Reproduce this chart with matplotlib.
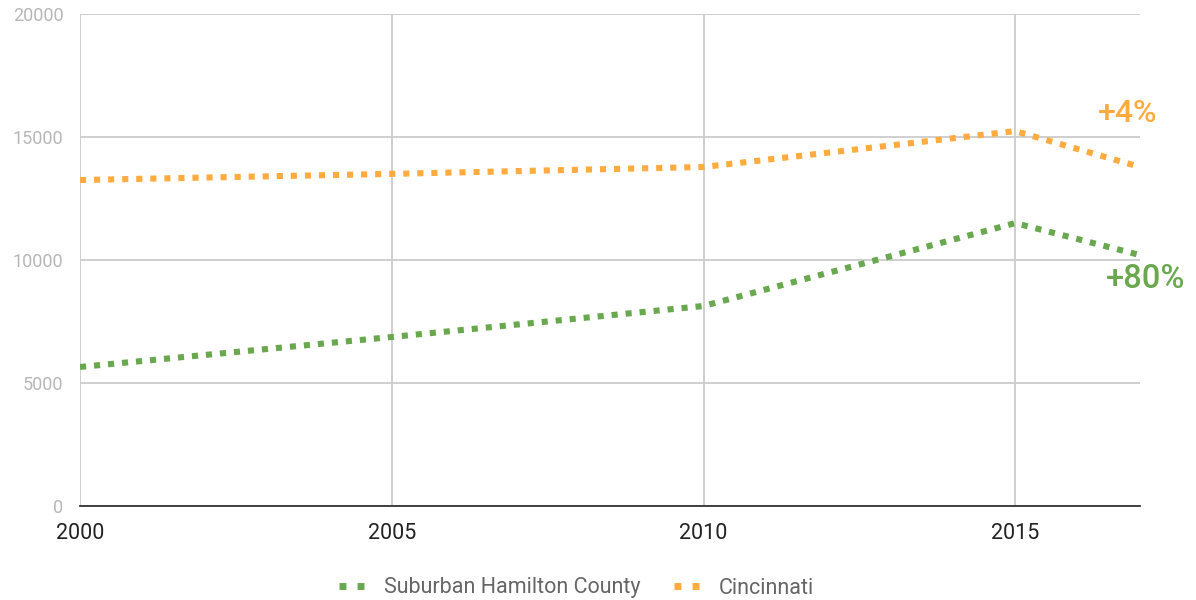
import matplotlib.pyplot as plt
from matplotlib.lines import Line2D

plt.rcParams['font.family'] = ['Roboto', 'DejaVu Sans']

years = [2000, 2005, 2010, 2015, 2017]
suburban = [5650, 6870, 8130, 11500, 10200]
cincinnati = [13250, 13500, 13780, 15240, 13780]
labels = ["Suburban Hamilton County", "Cincinnati"]

green = "#6aa84f"
orange = "#ffab40"

W, H = 1196, 600
fig = plt.figure(figsize=(11.96, 6), dpi=100)
ax = fig.add_axes([0.0669, 0.1567, 0.9532 - 0.0669, 0.9767 - 0.1567])

ax.plot(years, suburban, color=green, lw=4.4, dashes=(1.0, 1.3),
        dash_capstyle='butt', zorder=3)
ax.plot(years, cincinnati, color=orange, lw=4.4, dashes=(1.0, 1.3),
        dash_capstyle='butt', zorder=3)

ax.set_xlim(2000, 2017)
ax.set_ylim(0, 20000)
ax.set_xticks([2000, 2005, 2010, 2015])
ax.set_yticks([0, 5000, 10000, 15000, 20000])
ax.grid(True, color="#cccccc", lw=1.3)
ax.set_axisbelow(True)
for s in ['top', 'right', 'left']:
    ax.spines[s].set_visible(False)
ax.spines['bottom'].set_color("#333333")
ax.spines['bottom'].set_linewidth(1.3)
ax.tick_params(length=0)
ax.tick_params(axis='y', labelcolor="#b7b7b7", labelsize=13, pad=12)
ax.tick_params(axis='x', labelcolor="#222222", labelsize=15.5, pad=12)

# percentage change labels (pixel positions from the top-left)
fig.text(1128 / W, 1 - 114 / H, "+4%", color=orange, fontsize=23,
         fontweight='medium', ha='center', va='center')
fig.text(1146 / W, 1 - 279 / H, "+80%", color=green, fontsize=23.5,
         fontweight='medium', ha='center', va='center')

handles = [Line2D([], [], color=green, lw=5, dashes=(1, 1.6), dash_capstyle='butt'),
           Line2D([], [], color=orange, lw=5, dashes=(1, 1.6), dash_capstyle='butt')]
fig.legend(handles, labels, loc='center', bbox_to_anchor=(0.482, 0.02),
           ncol=2, frameon=False, fontsize=15.5, handlelength=1.18,
           columnspacing=1.55, handletextpad=0.9, labelcolor="#666666")

fig.savefig("out.png", dpi=100)
